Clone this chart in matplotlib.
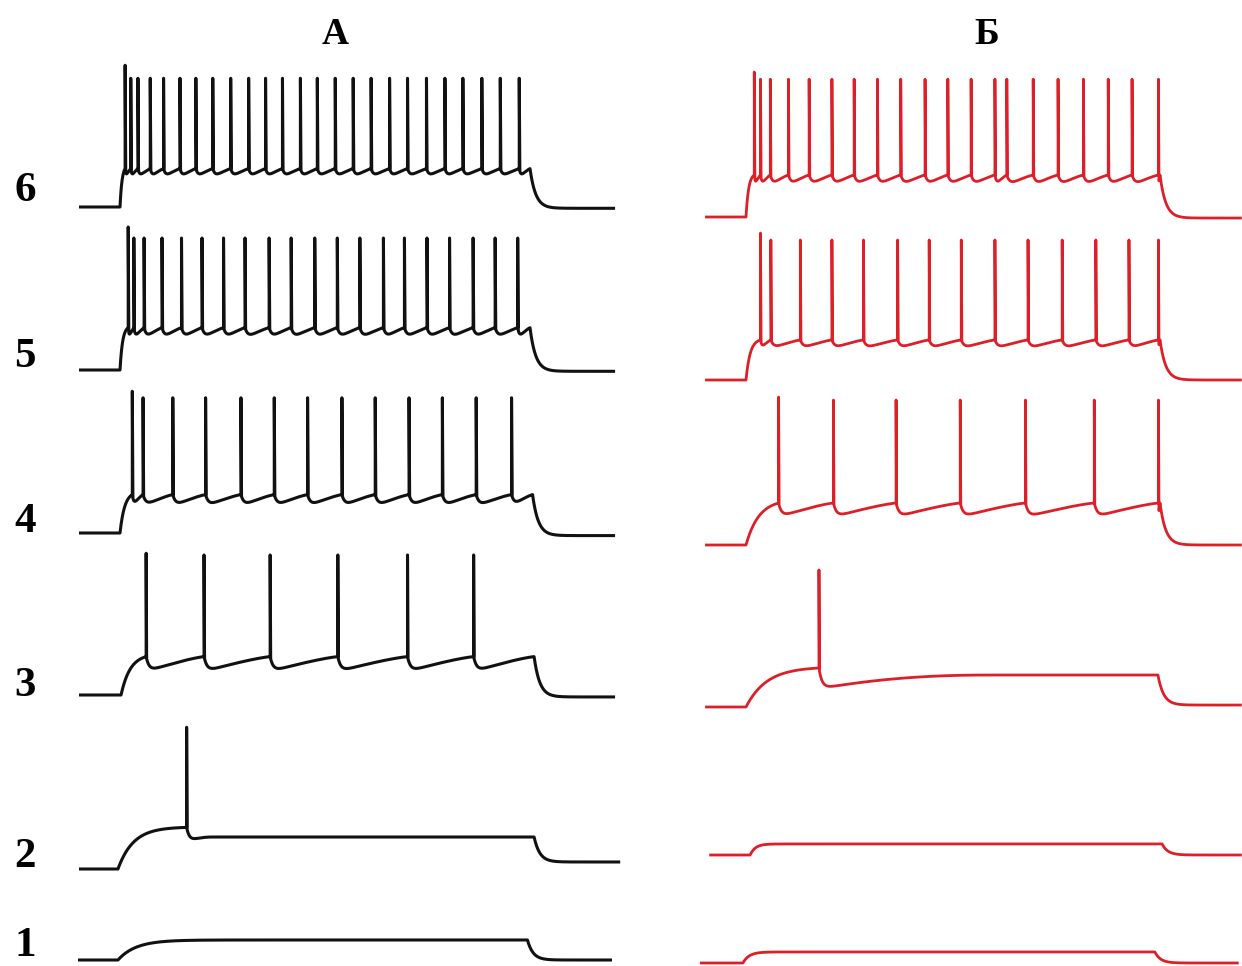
import numpy as np
import matplotlib.pyplot as plt

# time in ms from current-step onset, membrane potential in mV
# traces listed top to bottom: 6, 5, 4, 3, 2, 1
row_labels = ['6', '5', '4', '3', '2', '1']
col_titles = ['А', 'Б']

# ---- column A (black) ----
a6_spikes = [10, 21, 35, 59, 85, 117, 148, 181, 216, 251, 284, 317, 352, 385, 420,
             455, 490, 526, 561, 598, 634, 669, 706, 742, 779]
a5_spikes = [16, 27, 47, 82, 120, 160, 202, 244, 291, 334, 380, 424, 468, 514, 555,
             599, 643, 689, 732, 776]
a4_spikes = [24, 45, 103, 167, 236, 301, 366, 433, 498, 564, 629, 695, 764]
a3_spikes = [51, 164, 293, 425, 561, 690]
a2_spikes = [130]
a1_spikes = []
a_spikes = [a6_spikes, a5_spikes, a4_spikes, a3_spikes, a2_spikes, a1_spikes]
a_pre = [-40.5, -37.5, -40.5, -40.5, -38, -55]
a_trough = [-47.5, -46, -49.5, -52, -49.5, -55]
a_plateau = [-40.5, -37.5, -40.5, -40.5, -45.4, -54.6]
a_peak_first = [39, 40, 39, 39, 39, 0]
a_peak = [29, 31.5, 34, 37.7, 39, 0]
a_rest_post = [-71, -71, -72, -71.5, -64.6, -70]
a_t_on = [0, 0, 0, 2, -4, -4]
a_t_off = [800, 800, 805, 808, 808, 795]
a_t_start = [-80, -80, -80, -80, -80, -82]
a_t_end = [966, 966, 966, 966, 976, 960]
a_tau_on = [4, 5, 9, 18, 30, 35]
a_ramp = [1000, 1000, 1000, 1000, 50, 1000]   # ms for AHP recovery

# ---- column Б (red) ----
b6_spikes = [16, 28, 47, 82, 122, 166, 209, 254, 299, 346, 390, 435, 481, 504, 555,
             603, 652, 700, 746, 797]
b5_spikes = [28, 48, 105, 166, 227, 293, 354, 416, 481, 545, 611, 676, 740, 797]
b4_spikes = [63, 169, 290, 414, 540, 673, 797]
b3_spikes = [141]
b2_spikes = []
b1_spikes = []
b_spikes = [b6_spikes, b5_spikes, b4_spikes, b3_spikes, b2_spikes, b1_spikes]
b_pre = [-37.7, -39.2, -37.7, -40, -61.5, -61.5]
b_trough = [-46, -46, -48.5, -56, -61.5, -61.5]
b_plateau = [-37.7, -39.2, -37.7, -45.4, -61.5, -61.5]
b_peak_first = [41.5, 43, 43.8, 35.4, 0, 0]
b_peak = [36, 37.7, 41.5, 35.4, 0, 0]
b_rest_post = [-70.8, -70, -70, -68.5, -70, -70]
b_t_on = [0, 0, 0, 0, 8, -6]
b_t_off = [800, 800, 800, 796, 804, 790]
b_t_start = [-79, -79, -79, -79, -71, -89]
b_t_end = [958, 958, 958, 958, 958, 952]
b_tau_on = [5, 8, 25, 40, 10, 12]
b_ramp = [1000, 1000, 1000, 330, 1000, 1000]

REST = -70

# layout: baseline of every trace in figure pixels (from top)
a_base_px = [207, 370, 533, 695, 869, 960]
b_base_px = [217, 380, 545, 707, 855, 963]
PX_PER_MV = 1.3
W, H = 1242, 966


def make_trace(spikes, pre, trough, plateau, pk1, pk, rest_post,
               t_on, t_off, t_start, t_end, tau_on, ramp, tau_off=11):
    ts = [np.array([t_start, t_on])]
    vs = [np.array([REST, REST])]
    edges = [t_on] + list(spikes) + [t_off]
    n_seg = len(edges) - 1
    for i in range(n_seg):
        a, b = edges[i], edges[i + 1]
        T = b - a
        if i == 0:
            x = np.linspace(0, T, 300)
            if spikes:
                g = (1 - np.exp(-x / tau_on)) / (1 - np.exp(-T / tau_on))
                v = REST + (pre - REST) * g
            else:
                v = REST + (plateau - REST) * (1 - np.exp(-x / tau_on))
        else:
            x = np.linspace(min(1.0, T * 0.5), T, 400)
            hi = pre if i < n_seg - 1 else plateau
            R = min(T, ramp)
            q = 1.25 if ramp >= T else 2.2
            u = np.clip(x / R, 0, 1)
            tau_d = min(6.0, 0.14 * R)
            v = trough + (hi - trough) * (1 - (1 - u) ** q) \
                + (pre - trough) * np.exp(-x / tau_d) * (1 - u)
            ts.append(np.array([a]))
            vs.append(np.array([pk1 if i == 1 else pk]))
        ts.append(a + x)
        vs.append(v)
    v_off = vs[-1][-1]
    x = np.linspace(0, t_end - t_off, 300)
    ts.append(t_off + x)
    vs.append(rest_post + (v_off - rest_post) * np.exp(-x / tau_off))
    return np.concatenate(ts), np.concatenate(vs)


fig = plt.figure(figsize=(W / 100, H / 100), dpi=100)
fig.patch.set_facecolor('white')

T_MIN, T_MAX = -100, 1000
columns = [
    dict(x_on=120, px_per_ms=0.5125, color='#111111', lw=2.2, spikes=a_spikes, pre=a_pre,
         trough=a_trough, plateau=a_plateau, pk1=a_peak_first, pk=a_peak, rest_post=a_rest_post,
         t_on=a_t_on, t_off=a_t_off, t_start=a_t_start, t_end=a_t_end, tau_on=a_tau_on,
         ramp=a_ramp, base=a_base_px),
    dict(x_on=746, px_per_ms=0.5175, color='#dc1f28', lw=2.0, spikes=b_spikes, pre=b_pre,
         trough=b_trough, plateau=b_plateau, pk1=b_peak_first, pk=b_peak, rest_post=b_rest_post,
         t_on=b_t_on, t_off=b_t_off, t_start=b_t_start, t_end=b_t_end, tau_on=b_tau_on,
         ramp=b_ramp, base=b_base_px),
]

for col in columns:
    x0 = col['x_on'] + T_MIN * col['px_per_ms']
    width = (T_MAX - T_MIN) * col['px_per_ms']
    ax = fig.add_axes([x0 / W, 0, width / W, 1])
    ax.set_xlim(T_MIN, T_MAX)
    ax.set_ylim(0, H / PX_PER_MV)
    ax.axis('off')
    for i in range(6):
        t, v = make_trace(col['spikes'][i], col['pre'][i], col['trough'][i], col['plateau'][i],
                          col['pk1'][i], col['pk'][i], col['rest_post'][i], col['t_on'][i],
                          col['t_off'][i], col['t_start'][i], col['t_end'][i],
                          col['tau_on'][i], col['ramp'][i])
        offset = (H - col['base'][i]) / PX_PER_MV - REST
        ax.plot(t, v + offset, color=col['color'], lw=col['lw'],
                solid_joinstyle='round', solid_capstyle='butt')

# titles and row numbers
serif = ['Liberation Serif', 'DejaVu Serif']
fig.text(335 / W, 1 - 35 / H, col_titles[0], ha='center', va='center',
         fontsize=27, fontweight='bold', family=serif)
fig.text(987 / W, 1 - 34 / H, col_titles[1], ha='center', va='center',
         fontsize=27, fontweight='bold', family=serif)
label_y_px = [191, 357, 522, 686, 857, 946]
for lab, y in zip(row_labels, label_y_px):
    fig.text(25 / W, 1 - y / H, lab, ha='center', va='center',
             fontsize=31, fontweight='bold', family=serif)

fig.savefig('out.png', dpi=100, facecolor='white')
